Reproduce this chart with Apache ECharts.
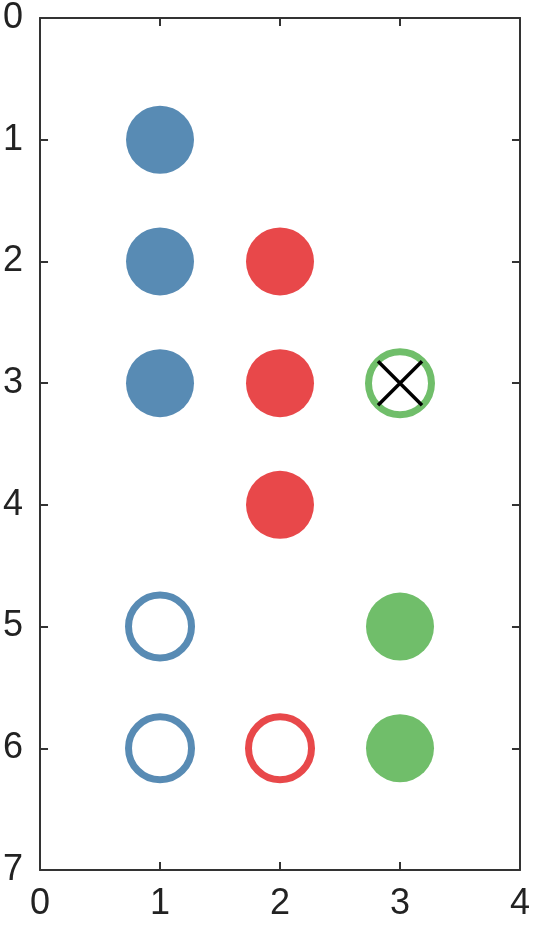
<!DOCTYPE html>
<html>
<head>
<meta charset="utf-8">
<script src="https://cdn.jsdelivr.net/npm/echarts@6/dist/echarts.min.js"></script>
<style>html,body{margin:0;padding:0;background:#fff}#c{width:533px;height:930px}</style>
</head>
<body>
<div id="c"></div>
<script>
const xTicks = [0, 1, 2, 3, 4];
const yTicks = [0, 1, 2, 3, 4, 5, 6, 7];
const blueFilled = [[1, 1], [1, 2], [1, 3]];
const blueOpen = [[1, 5], [1, 6]];
const redFilled = [[2, 2], [2, 3], [2, 4]];
const redOpen = [[2, 6]];
const greenFilled = [[3, 5], [3, 6]];
const greenOpen = [[3, 3]];
const crossMark = [[3, 3]];

const BLUE = '#588BB4', RED = '#E8484A', GREEN = '#70BE6A';
const axisColor = '#333333';
const font = 'Liberation Sans, Arial, Helvetica, sans-serif';

function baseAxis(extra) {
  return Object.assign({
    type: 'value', interval: 1,
    axisLine: { show: true, onZero: false, lineStyle: { color: axisColor, width: 2 } },
    axisTick: { show: true, inside: true, length: 8, lineStyle: { color: axisColor, width: 2 } },
    splitLine: { show: false },
    axisLabel: { show: true, color: '#222', fontSize: 36, fontFamily: font }
  }, extra);
}

const chart = echarts.init(document.getElementById('c'));
chart.setOption({
  animation: false,
  grid: { left: 36, right: 8, top: 12, bottom: 60, containLabel: false },
  xAxis: [
    baseAxis({ min: xTicks[0], max: xTicks[xTicks.length - 1], position: 'bottom',
      axisLabel: { show: true, color: '#222', fontSize: 36, fontFamily: font, margin: 16 } }),
    baseAxis({ min: xTicks[0], max: xTicks[xTicks.length - 1], position: 'top',
      axisLabel: { show: false } })
  ],
  yAxis: [
    baseAxis({ min: yTicks[0], max: yTicks[yTicks.length - 1], inverse: true, position: 'left',
      axisLabel: { show: true, color: '#222', fontSize: 36, fontFamily: font, margin: 17 } }),
    baseAxis({ min: yTicks[0], max: yTicks[yTicks.length - 1], inverse: true, position: 'right',
      axisLabel: { show: false } })
  ],
  series: [
    { type: 'scatter', data: blueFilled, symbol: 'circle', symbolSize: 68,
      itemStyle: { color: BLUE, opacity: 1 } },
    { type: 'scatter', data: redFilled, symbol: 'circle', symbolSize: 68,
      itemStyle: { color: RED, opacity: 1 } },
    { type: 'scatter', data: greenFilled, symbol: 'circle', symbolSize: 68,
      itemStyle: { color: GREEN, opacity: 1 } },
    { type: 'scatter', data: blueOpen, symbol: 'circle', symbolSize: 63,
      itemStyle: { color: '#fff', borderColor: BLUE, borderWidth: 7, opacity: 1 } },
    { type: 'scatter', data: redOpen, symbol: 'circle', symbolSize: 63,
      itemStyle: { color: '#fff', borderColor: RED, borderWidth: 7, opacity: 1 } },
    { type: 'scatter', data: greenOpen, symbol: 'circle', symbolSize: 63,
      itemStyle: { color: '#fff', borderColor: GREEN, borderWidth: 7, opacity: 1 } },
    { type: 'scatter', data: crossMark, symbol: 'path://M0,0L10,10M10,0L0,10', symbolSize: 44,
      itemStyle: { color: 'none', borderColor: '#000', borderWidth: 3.5, opacity: 1 }, z: 5 }
  ]
});
</script>
</body>
</html>
